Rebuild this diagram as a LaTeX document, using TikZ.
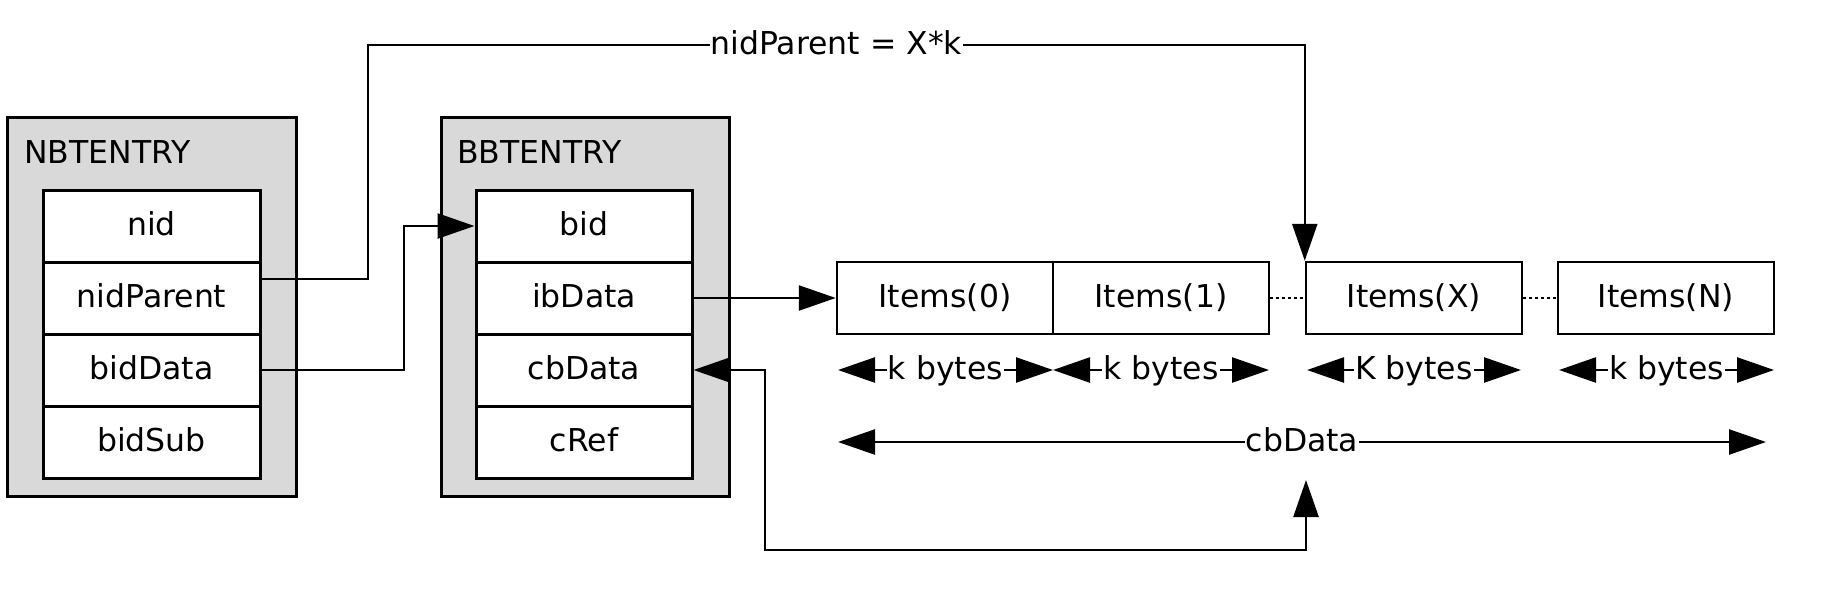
\documentclass[tikz,border=0pt]{standalone}
\usepackage{fontspec}
\setmainfont{DejaVu Sans}
\usetikzlibrary{arrows.meta}
\definecolor{boxgray}{RGB}{217,217,217}
\begin{document}
\begin{tikzpicture}[x=1pt,y=-1pt,
  >={Triangle[length=37pt,width=25pt]},
  every node/.style={font=\fontsize{31.5}{36}\selectfont},
  outerbox/.style={draw,fill=boxgray,line width=3pt,minimum width=289pt,minimum height=379pt,inner sep=0pt},
  row/.style={draw,fill=white,line width=3pt,minimum width=217pt,minimum height=72pt,inner sep=0pt,text height=24pt,text depth=6pt},
  item/.style={row,line width=2.5pt,minimum width=216pt},
  title/.style={anchor=base west,inner sep=0pt},
  conn/.style={line width=2.5pt},
  lbl/.style={fill=white,inner sep=1pt,text height=24pt,text depth=6pt},
  dots/.style={line width=2pt,dash pattern=on 3pt off 3pt}
]
\useasboundingbox (0,0) rectangle (1821,597);

% containers
\node[outerbox] (nbt) at (151.5,306.5) {};
\node[title] (nbtlabel) at (24,163) {NBTENTRY};
\node[outerbox,minimum width=288pt] (bbt) at (585,306.5) {};
\node[title] (bbtlabel) at (457,163) {BBTENTRY};

% NBTENTRY rows
\node[row] (nid)  at (151.5,226) {nid};
\node[row] (nidp) at (151.5,298) {nidParent};
\node[row] (bidd) at (151.5,370) {bidData};
\node[row] (bids) at (151.5,442) {bidSub};

% BBTENTRY rows
\node[row,minimum width=216pt] (bid) at (584,226) {bid};
\node[row,minimum width=216pt] (ibd) at (584,298) {ibData};
\node[row,minimum width=216pt] (cbd) at (584,370) {cbData};
\node[row,minimum width=216pt] (cref) at (584,442) {cRef};

% items
\node[item] (i0) at (945,298) {Items(0)};
\node[item] (i1) at (1161,298) {Items(1)};
\node[item] (ix) at (1414,298) {Items(X)};
\node[item] (in) at (1666,298) {Items(N)};

\draw[dots] (i1.east) -- (ix.west);
\draw[dots] (ix.east) -- (in.west);

% nidParent connector
\coordinate (np1) at (368,45);
\path (ix.north west |- np1) coordinate (np2);
\draw[conn,->] ([yshift=19pt]nidp.east) -| (np1) -- node[lbl] {nidParent = X*k} (np2) -- (ix.north west);

% bidData connector
\coordinate (bd1) at (404,370);
\draw[conn,->] (bidd.east) -- (bd1) |- (bid.west);

% ibData connector
\draw[conn,->] (ibd.east) -- (i0.west);

% cbData connector
\coordinate (cb1) at (765,550);
\coordinate (cb2) at (1306,550);
\coordinate (cb3) at (1306,480);
\draw[conn,<->] (cbd.east) -| (cb1) -- (cb2) -- (cb3);

% byte ranges
\coordinate (k0a) at (838,370);
\coordinate (k0b) at (1053,370);
\coordinate (k1b) at (1269,370);
\coordinate (kxa) at (1307,370);
\coordinate (kxb) at (1521,370);
\coordinate (kna) at (1559,370);
\coordinate (knb) at (1774,370);
\draw[conn,<->] (k0a) -- node[lbl] {k bytes} (k0b);
\draw[conn,<->] (k0b) -- node[lbl] {k bytes} (k1b);
\draw[conn,<->] (kxa) -- node[lbl] {K bytes} (kxb);
\draw[conn,<->] (kna) -- node[lbl] {k bytes} (knb);

% total cbData
\coordinate (ca) at (838,442);
\coordinate (cz) at (1766,442);
\draw[conn,<->] (ca) -- node[lbl] {cbData} (cz);
\end{tikzpicture}
\end{document}
